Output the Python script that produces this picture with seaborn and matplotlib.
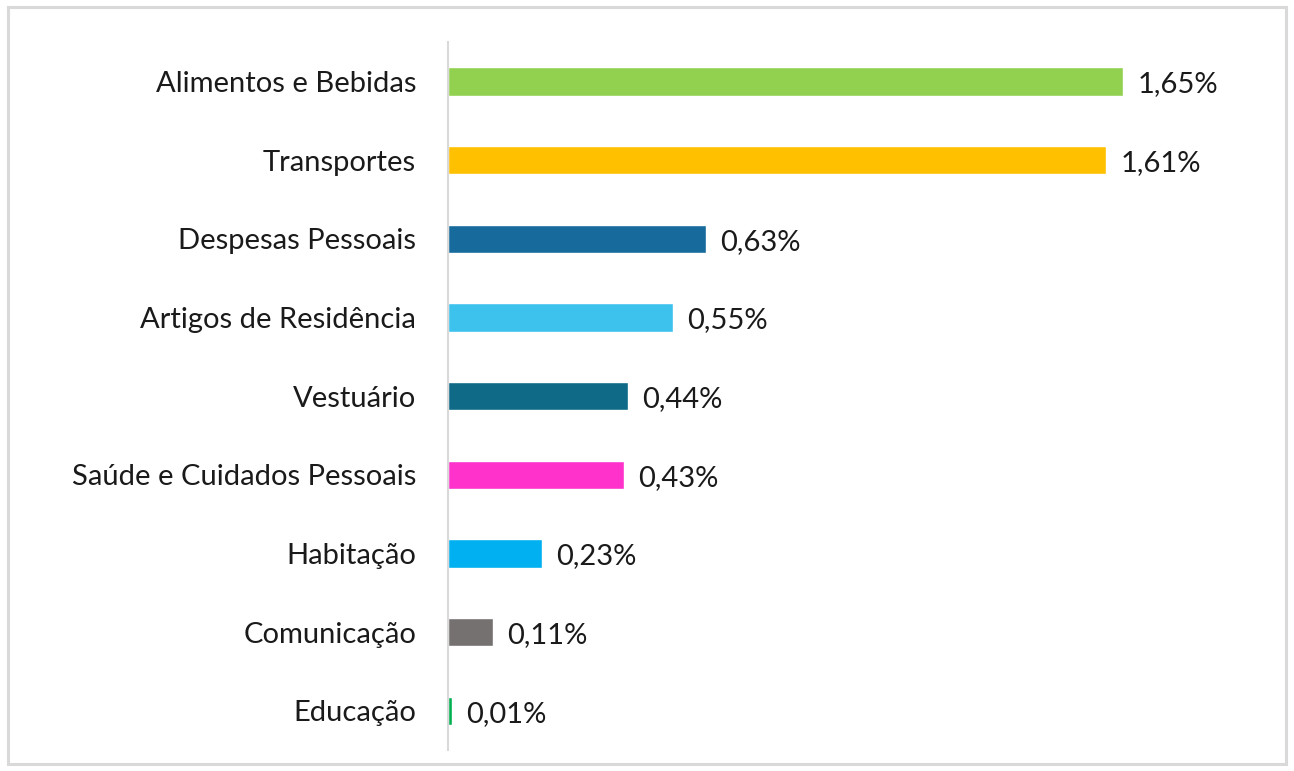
import matplotlib
matplotlib.use("Agg")
import matplotlib.pyplot as plt
import seaborn as sns
import pandas as pd
from matplotlib.patches import Rectangle

categories = ["Alimentos e Bebidas", "Transportes", "Despesas Pessoais",
              "Artigos de Residência", "Vestuário", "Saúde e Cuidados Pessoais",
              "Habitação", "Comunicação", "Educação"]
values = [1.65, 1.61, 0.63, 0.55, 0.44, 0.43, 0.23, 0.11, 0.01]
colors = ["#92D050", "#FFC000", "#176A9C", "#3DC2EE", "#0E6A87",
          "#FF33CC", "#00B0F0", "#767171", "#00B050"]

sns.set_theme(style="white")
plt.rcParams["font.family"] = ["Lato", "DejaVu Sans"]

df = pd.DataFrame({"cat": categories, "val": values})

fig = plt.figure(figsize=(12.94, 7.71), dpi=100)
ax = fig.add_axes([0.3462, 0.0272, 0.6353, 0.9183])

sns.barplot(data=df, y="cat", x="val", hue="cat", palette=colors,
            legend=False, width=0.36, ax=ax, saturation=1)

# value labels, comma decimal
for i, v in enumerate(values):
    ax.text(v + 0.035, i + 0.04, f"{v:.2f}%".replace(".", ","),
            va="center", ha="left", fontsize=21, color="#1a1a1a")

ax.set_xlim(0, 2.01)
ax.set_ylim(8.5, -0.5)
ax.set_xlabel("")
ax.set_ylabel("")
ax.set_xticks([])
ax.tick_params(axis="y", length=0, pad=23, labelsize=21, labelcolor="#1a1a1a")
for s in ["top", "right", "bottom"]:
    ax.spines[s].set_visible(False)
ax.spines["left"].set_color("#D9D9D9")
ax.spines["left"].set_linewidth(1.5)

fig.patches.append(Rectangle((0.006, 0.009), 0.988, 0.982, transform=fig.transFigure,
                             fill=False, edgecolor="#D9D9D9", linewidth=2.2))

fig.savefig("out.png", dpi=100)
